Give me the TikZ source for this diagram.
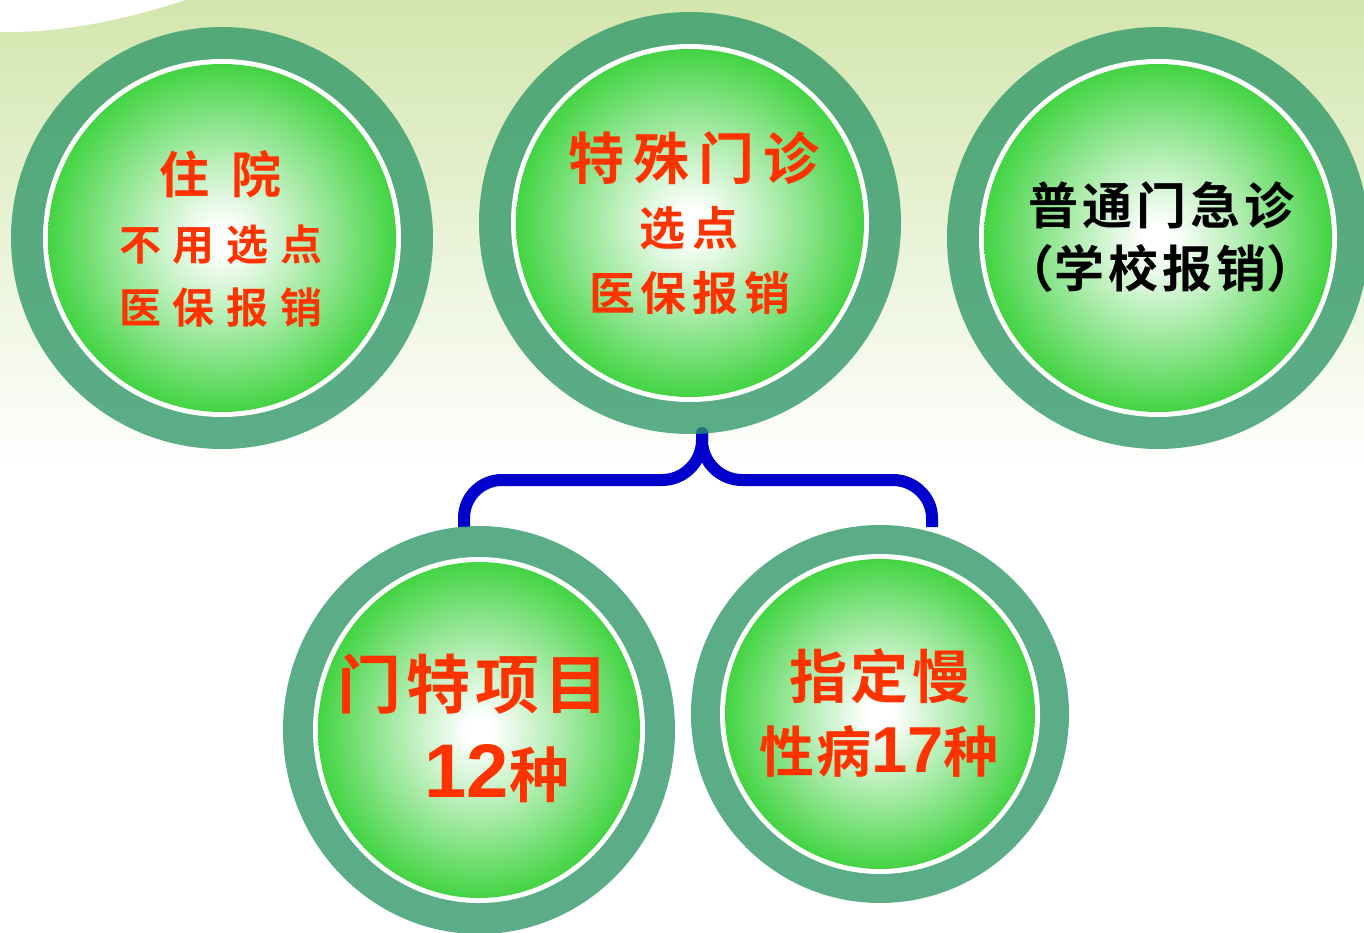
\documentclass[tikz,border=0pt]{standalone}
\usepackage{fontspec}
\usetikzlibrary{shapes.geometric}
\newfontfamily\cjk{Noto Sans CJK SC}[BoldFont={Noto Sans CJK SC Bold}]
\newfontfamily\numfont{Liberation Sans}
\newcommand{\myfs}[1]{\fontsize{#1}{#1}\selectfont}
\definecolor{bgtop}{RGB}{211,230,174}
\definecolor{ringc}{RGB}{46,151,102}
\definecolor{ballg}{RGB}{34,204,34}
\definecolor{txtred}{RGB}{255,51,0}
\definecolor{bracec}{RGB}{0,0,204}
\pgfdeclareradialshading{ballshade}{\pgfpoint{0bp}{0bp}}{color(0bp)=(white); color(2bp)=(white); color(10bp)=(ballg!28!white); color(18bp)=(ballg!58!white); color(25bp)=(ballg!85!white); color(30bp)=(ballg); color(50bp)=(ballg)}
\tikzset{
  ringnode/.style={ellipse, fill=ringc, fill opacity=0.78, draw=none, inner sep=0},
  whitenode/.style={ellipse, fill=white, draw=none, inner sep=0},
  ballnode/.style={ellipse, shading=ballshade, draw=none, inner sep=0},
  txt/.style={inner sep=0, text=txtred, font=\cjk\bfseries},
  blacktxt/.style={inner sep=0, text=black, font=\cjk\bfseries},
  brace/.style={draw=bracec, line width=12pt, line cap=butt, line join=round},
}
\begin{document}
\begin{tikzpicture}[x=1pt,y=-1pt]
\useasboundingbox (0,0) rectangle (1364,933);
\fill[white] (0,0) rectangle (1364,933);
\shade[top color=bgtop, bottom color=white] (0,0) rectangle (1364,470);
\fill[white] (0,0) -- (185,0) .. controls (120,22) and (55,33) .. (0,32) -- cycle;

% brace
\coordinate (bt) at (702,433);
\coordinate (bm) at (702,440);
\coordinate (bl) at (464,527);
\coordinate (br) at (932,527);
\fill[bracec] (bt) circle (6);
\draw[brace] (bt) -- (bm) .. controls (702,462) and (684,480) .. (662,480) -- (502,480) .. controls (481,480) and (464,497) .. (464,518) -- (bl);
\draw[brace] (bt) -- (bm) .. controls (702,462) and (720,480) .. (742,480) -- (893,480) .. controls (914,480) and (932,497) .. (932,518) -- (br);

% circles
\node[ringnode, minimum width=422, minimum height=422] (Lo) at (222,238) {};
\node[whitenode, minimum width=358, minimum height=358] (Lw) at (222,238) {};
\node[ballnode, minimum width=348, minimum height=348] (Lb) at (222,238) {};

\node[ringnode, minimum width=422, minimum height=422] (Mo) at (690,223) {};
\node[whitenode, minimum width=358, minimum height=358] (Mw) at (690,223) {};
\node[ballnode, minimum width=348, minimum height=348] (Mb) at (690,223) {};

\node[ringnode, minimum width=422, minimum height=422] (Ro) at (1158,238) {};
\node[whitenode, minimum width=358, minimum height=358] (Rw) at (1158,238) {};
\node[ballnode, minimum width=348, minimum height=348] (Rb) at (1158,238) {};

\node[ringnode, minimum width=392, minimum height=408] (BLo) at (479,730) {};
\node[whitenode, minimum width=332, minimum height=346] (BLw) at (479,730) {};
\node[ballnode, minimum width=322, minimum height=336] (BLb) at (479,730) {};

\node[ringnode, minimum width=378, minimum height=378] (BRo) at (880,714) {};
\node[whitenode, minimum width=320, minimum height=320] (BRw) at (880,714) {};
\node[ballnode, minimum width=310, minimum height=310] (BRb) at (880,714) {};

% texts
\node[txt] (L1) at (220,174) {\myfs{50}住\kern22pt院};
\node[txt] (L2) at (221,245) {\myfs{42}不\kern12pt用\kern12pt选\kern12pt点};
\node[txt] (L3) at (221,308) {\myfs{42}医\kern12pt保\kern12pt报\kern12pt销};

\node[txt] (M1) at (694,158) {\myfs{56}特\kern9pt殊\kern9pt门\kern9pt诊};
\node[txt] (M2) at (689,228) {\myfs{46}选\kern8pt点};
\node[txt] (M3) at (690,293) {\myfs{46}医\kern6pt保\kern6pt报\kern6pt销};

\node[blacktxt] (R1) at (1161,205) {\myfs{50}普\kern4pt通\kern4pt门\kern4pt急\kern4pt诊};
\node[blacktxt] (R2) at (1160,268) {\myfs{50}（学\kern4pt校\kern4pt报\kern4pt销）};

\node[txt] (BL1) at (473,684) {\myfs{64}门\kern5pt特\kern5pt项\kern5pt目};
\node[txt, anchor=base] (BL2) at (497,797) {{\numfont\myfs{76}12}\myfs{60}种};

\node[txt] (BR1) at (880,676) {\myfs{58}指\kern4pt定\kern4pt慢};
\node[txt, anchor=base] (BR2) at (879,772) {\myfs{55}性\kern2pt病{\numfont\myfs{65}17}种};
\end{tikzpicture}
\end{document}
